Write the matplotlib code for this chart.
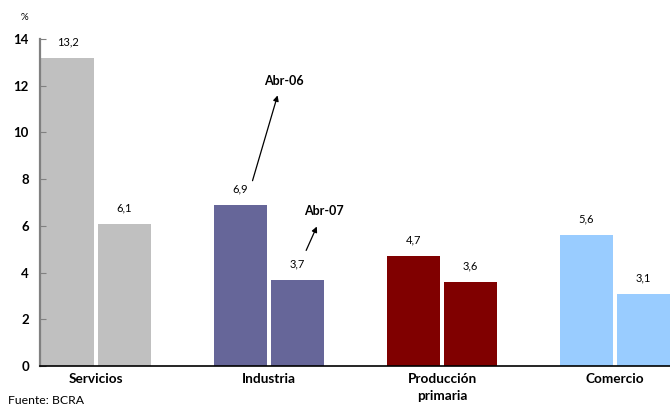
import numpy as np
import matplotlib.pyplot as plt

plt.rcParams['font.family'] = ['Lato', 'DejaVu Sans']

# sectores y tasas (%) para abril de cada año
sectores = ['Servicios', 'Industria', 'Producción\nprimaria', 'Comercio']
abr06 = [13.2, 6.9, 4.7, 5.6]
abr07 = [6.1, 3.7, 3.6, 3.1]
colores = ['#C0C0C0', '#666699', '#800000', '#99CCFF']
yticks = [0, 2, 4, 6, 8, 10, 12, 14]

fig = plt.figure(figsize=(6.7, 4.09), dpi=100)
ax = fig.add_axes([0.0597, 0.1051, 0.9403, 0.7995])

x = np.arange(len(sectores))
w = 0.306
off = 0.165

ax.bar(x - off, abr06, width=w, color=colores)
ax.bar(x + off, abr07, width=w, color=colores)

# etiquetas de valor con coma decimal
for xi, v in zip(x - off, abr06):
    ax.text(xi, v + 0.45, f'{v:.1f}'.replace('.', ','), ha='center', va='bottom', fontsize=8)
for xi, v in zip(x + off, abr07):
    ax.text(xi, v + 0.45, f'{v:.1f}'.replace('.', ','), ha='center', va='bottom', fontsize=8)

# flechas que señalan cada año
ax.annotate('', xy=(1.054, 11.70), xytext=(0.900, 7.82),
            arrowprops=dict(arrowstyle='-|>', color='black', lw=0.9, mutation_scale=8))
ax.text(1.087, 12.2, 'Abr-06', ha='center', va='center', fontsize=9, fontweight='bold')
ax.annotate('', xy=(1.283, 6.08), xytext=(1.208, 4.84),
            arrowprops=dict(arrowstyle='-|>', color='black', lw=0.9, mutation_scale=8))
ax.text(1.318, 6.64, 'Abr-07', ha='center', va='center', fontsize=9, fontweight='bold')

ax.set_xlim(-0.324, 3.318)
ax.set_ylim(0, 14)
ax.set_yticks(yticks)
ax.set_yticklabels([str(t) for t in yticks], fontsize=9.5, fontweight='bold')
ax.set_xticks(x)
ax.set_xticklabels(sectores, fontsize=9.8, fontweight='bold', va='top', linespacing=1.5)
ax.tick_params(axis='x', length=0, pad=5)
ax.tick_params(axis='y', direction='in', length=4, color='#808080', pad=8)

for s in ['top', 'right']:
    ax.spines[s].set_visible(False)
ax.spines['left'].set_color('#808080')
ax.spines['left'].set_linewidth(1.6)
ax.spines['bottom'].set_color('black')
ax.spines['bottom'].set_linewidth(1.2)

fig.text(24 / 670, 1 - 17 / 409, '%', ha='center', va='center', fontsize=7)
fig.text(8 / 670, 1 - 400 / 409, 'Fuente: BCRA', ha='left', va='center', fontsize=8.8)

fig.savefig('out.png', dpi=100)
